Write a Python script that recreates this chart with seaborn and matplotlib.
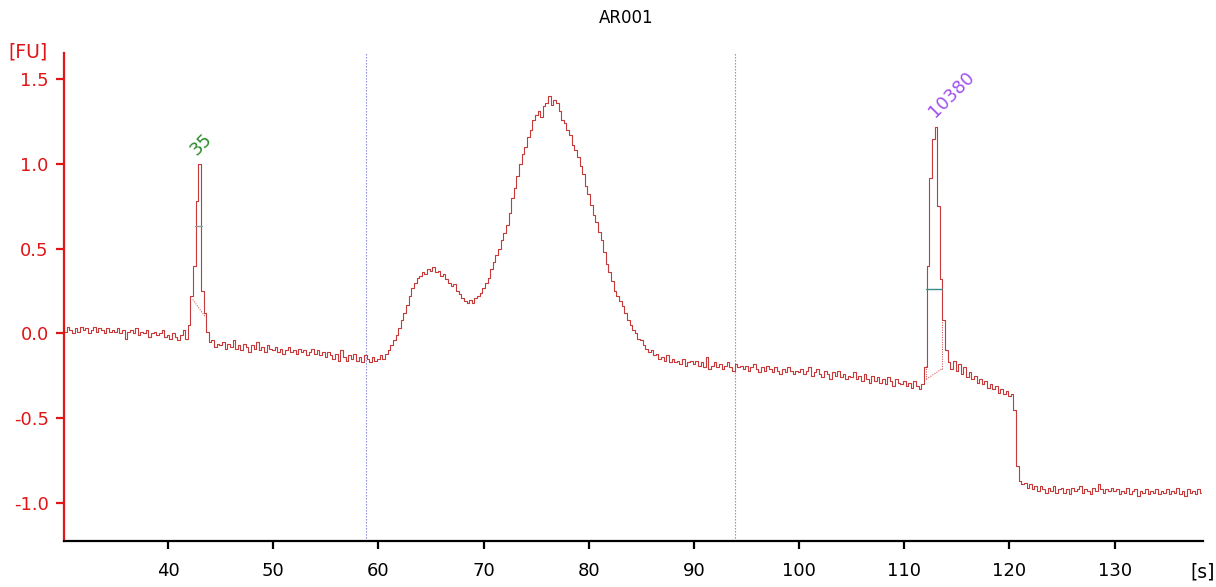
import numpy as np
import pandas as pd
import matplotlib
matplotlib.use("Agg")
import matplotlib.pyplot as plt
import seaborn as sns

# ---------------- data ----------------
title = "AR001"
t_start = 30.0
t_step = 0.25
fluor = [
    # 30.0 - 34.75
    0.03, 0.01, 0.04, 0.02, 0.00, 0.03, 0.01, 0.04, 0.02, 0.03, 0.00, 0.02, 0.04, 0.01, 0.03, 0.02, 0.00, 0.03, 0.01, 0.02,
    # 35.0 - 39.75
    0.01, 0.03, 0.00, 0.02, -0.03, 0.01, 0.02, 0.00, 0.03, -0.01, 0.01, 0.00, 0.02, -0.02, 0.00, 0.01, -0.01, 0.00, 0.02, -0.02,
    # 40.0 - 44.75
    -0.01, -0.03, 0.00, -0.02, -0.04, -0.01, 0.02, -0.03, 0.05, 0.22, 0.40, 0.78, 1.00, 0.25, 0.12, 0.01, -0.05, -0.04, -0.08, -0.06,
    # 45.0 - 49.75
    -0.07, -0.05, -0.09, -0.06, -0.08, -0.04, -0.09, -0.07, -0.10, -0.06, -0.08, -0.11, -0.07, -0.09, -0.05, -0.10, -0.08, -0.11, -0.07, -0.09,
    # 50.0 - 54.75
    -0.10, -0.08, -0.11, -0.09, -0.12, -0.10, -0.08, -0.11, -0.10, -0.12, -0.09, -0.11, -0.10, -0.13, -0.11, -0.09, -0.12, -0.10, -0.13, -0.11,
    # 55.0 - 59.75
    -0.14, -0.11, -0.13, -0.15, -0.12, -0.16, -0.10, -0.14, -0.16, -0.13, -0.15, -0.12, -0.16, -0.14, -0.17, -0.13, -0.15, -0.17, -0.14, -0.16,
    # 60.0 - 64.75
    -0.15, -0.13, -0.15, -0.12, -0.10, -0.07, -0.04, -0.01, 0.03, 0.08, 0.12, 0.17, 0.22, 0.27, 0.30, 0.33, 0.34, 0.36, 0.35, 0.38,
    # 65.0 - 69.75
    0.37, 0.39, 0.36, 0.37, 0.34, 0.35, 0.32, 0.30, 0.28, 0.29, 0.25, 0.23, 0.21, 0.19, 0.18, 0.20, 0.18, 0.21, 0.22, 0.24,
    # 70.0 - 74.75
    0.27, 0.30, 0.33, 0.38, 0.42, 0.46, 0.50, 0.55, 0.59, 0.64, 0.71, 0.80, 0.86, 0.93, 1.00, 1.06, 1.10, 1.16, 1.20, 1.26,
    # 75.0 - 79.75
    1.29, 1.31, 1.28, 1.34, 1.36, 1.40, 1.35, 1.38, 1.36, 1.31, 1.26, 1.24, 1.20, 1.17, 1.11, 1.08, 1.04, 0.99, 0.94, 0.87,
    # 80.0 - 84.75
    0.82, 0.76, 0.70, 0.66, 0.60, 0.55, 0.48, 0.41, 0.36, 0.31, 0.25, 0.22, 0.19, 0.16, 0.12, 0.08, 0.05, 0.02, 0.00, -0.03,
    # 85.0 - 89.75
    -0.04, -0.07, -0.09, -0.11, -0.10, -0.13, -0.12, -0.15, -0.14, -0.16, -0.13, -0.17, -0.15, -0.17, -0.16, -0.18, -0.15, -0.19, -0.17, -0.16,
    # 90.0 - 94.75
    -0.18, -0.16, -0.19, -0.17, -0.20, -0.14, -0.21, -0.19, -0.17, -0.20, -0.18, -0.21, -0.19, -0.17, -0.20, -0.22, -0.18, -0.20, -0.19, -0.21,
    # 95.0 - 99.75
    -0.19, -0.22, -0.20, -0.18, -0.21, -0.23, -0.20, -0.22, -0.19, -0.21, -0.23, -0.20, -0.22, -0.24, -0.21, -0.23, -0.20, -0.22, -0.24, -0.22,
    # 100.0 - 104.75
    -0.23, -0.21, -0.24, -0.22, -0.20, -0.25, -0.23, -0.21, -0.24, -0.26, -0.22, -0.24, -0.27, -0.23, -0.25, -0.22, -0.26, -0.24, -0.27, -0.25,
    # 105.0 - 109.75
    -0.26, -0.23, -0.27, -0.25, -0.28, -0.24, -0.27, -0.29, -0.25, -0.28, -0.26, -0.29, -0.27, -0.30, -0.26, -0.28, -0.31, -0.27, -0.29, -0.30,
    # 110.0 - 114.75
    -0.28, -0.31, -0.29, -0.32, -0.28, -0.31, -0.33, -0.30, -0.20, 0.40, 0.92, 1.15, 1.22, 0.75, 0.32, 0.08, -0.10, -0.17, -0.21, -0.16,
    # 115.0 - 119.75
    -0.22, -0.18, -0.24, -0.20, -0.26, -0.23, -0.27, -0.25, -0.29, -0.27, -0.30, -0.28, -0.32, -0.30, -0.33, -0.31, -0.35, -0.33, -0.36, -0.34,
    # 120.0 - 124.75
    -0.37, -0.36, -0.45, -0.78, -0.87, -0.89, -0.88, -0.91, -0.89, -0.92, -0.90, -0.93, -0.90, -0.92, -0.94, -0.91, -0.93, -0.90, -0.94, -0.92,
    # 125.0 - 129.75
    -0.91, -0.94, -0.92, -0.95, -0.91, -0.93, -0.92, -0.90, -0.94, -0.92, -0.93, -0.95, -0.91, -0.93, -0.89, -0.92, -0.94, -0.92, -0.93, -0.91,
    # 130.0 - 134.75
    -0.93, -0.92, -0.95, -0.93, -0.94, -0.91, -0.95, -0.93, -0.92, -0.96, -0.93, -0.94, -0.92, -0.95, -0.93, -0.94, -0.92, -0.95, -0.93, -0.94,
    # 135.0 - 138.25
    -0.92, -0.95, -0.93, -0.94, -0.91, -0.95, -0.93, -0.96, -0.92, -0.94, -0.93, -0.95, -0.92, -0.94,
]

peak_labels = ["35", "10380"]
peak_label_x = [42.75, 112.95]
peak_label_y = [1.05, 1.27]
peak_label_colors = ["#2b8a2b", "#a050f0"]

# half-height markers of the two marker peaks
half_x0 = [42.6, 112.1]
half_x1 = [43.2, 113.55]
half_y = [0.635, 0.26]

# region boundaries
region_bounds = [58.8, 93.9]

x_ticks = [40, 50, 60, 70, 80, 90, 100, 110, 120, 130]
y_ticks = [-1.0, -0.5, 0.0, 0.5, 1.0, 1.5]
y_tick_labels = ["-1.0", "-0.5", "0.0", "0.5", "1.0", "1.5"]

# ---------------- plot ----------------
sns.set_style("white")
plt.rcParams["font.family"] = ["DejaVu Sans"]

time = t_start + t_step * np.arange(len(fluor))
df = pd.DataFrame({"time": time, "fu": fluor})

fig = plt.figure(figsize=(12.16, 5.87), dpi=100)
ax = fig.add_axes([0.0526, 0.0784, 0.9367, 0.8313])

sns.lineplot(data=df, x="time", y="fu", ax=ax, color="#c83a3a",
             linewidth=0.8, drawstyle="steps-mid", estimator=None)

for b in region_bounds:
    ax.axvline(b, color="#7f7fd6", linestyle=(0, (1.2, 1.5)), linewidth=0.8, zorder=1)

# peak boundaries / baselines (dotted)
ax.plot([42.35, 43.5], [0.20, 0.10], color="#c83a3a", linestyle=(0, (1, 1.5)), linewidth=0.7)
ax.plot([112.1, 113.55], [-0.27, -0.21], color="#c83a3a", linestyle=(0, (1, 1.5)), linewidth=0.7)
ax.plot([113.55, 113.55], [-0.21, 0.26], color="#c83a3a", linestyle=(0, (1, 1.5)), linewidth=0.7)
ax.plot([112.1, 112.1], [-0.19, -0.27], color="#c83a3a", linestyle=(0, (1, 1.5)), linewidth=0.7)

half_colors = ["#8aa4a4", "#3c8c8c"]
for x0, x1, y, c in zip(half_x0, half_x1, half_y, half_colors):
    ax.plot([x0, x1], [y, y], color=c, linewidth=1.0)

for lab, x, y, c in zip(peak_labels, peak_label_x, peak_label_y, peak_label_colors):
    ax.text(x, y, lab, color=c, fontsize=13, rotation=45, rotation_mode="anchor",
            ha="left", va="baseline")

ax.set_xlim(30.1, 138.4)
ax.set_ylim(-1.225, 1.655)
ax.set_xticks(x_ticks)
ax.set_yticks(y_ticks)
ax.set_yticklabels(y_tick_labels)
ax.set_xlabel("")
ax.set_ylabel("")

for s in ["top", "right"]:
    ax.spines[s].set_visible(False)
ax.spines["left"].set_color("#e01515")
ax.spines["left"].set_linewidth(1.6)
ax.spines["bottom"].set_color("black")
ax.spines["bottom"].set_linewidth(1.6)

ax.tick_params(axis="y", colors="#e01515", labelcolor="#e01515", length=6,
               width=1.6, direction="out", labelsize=13, pad=5, left=True)
ax.tick_params(axis="x", colors="black", length=6, width=1.6, direction="out",
               labelsize=13, pad=9, bottom=True)

fig.text(0.0066, 0.912, "[FU]", color="#e01515", fontsize=13.5, ha="left", va="center")
fig.text(0.979, 0.026, "[s]", color="black", fontsize=13.5, ha="left", va="center")
fig.text(0.515, 0.97, title, color="black", fontsize=12, ha="center", va="center")

fig.savefig("out.png", dpi=100)
